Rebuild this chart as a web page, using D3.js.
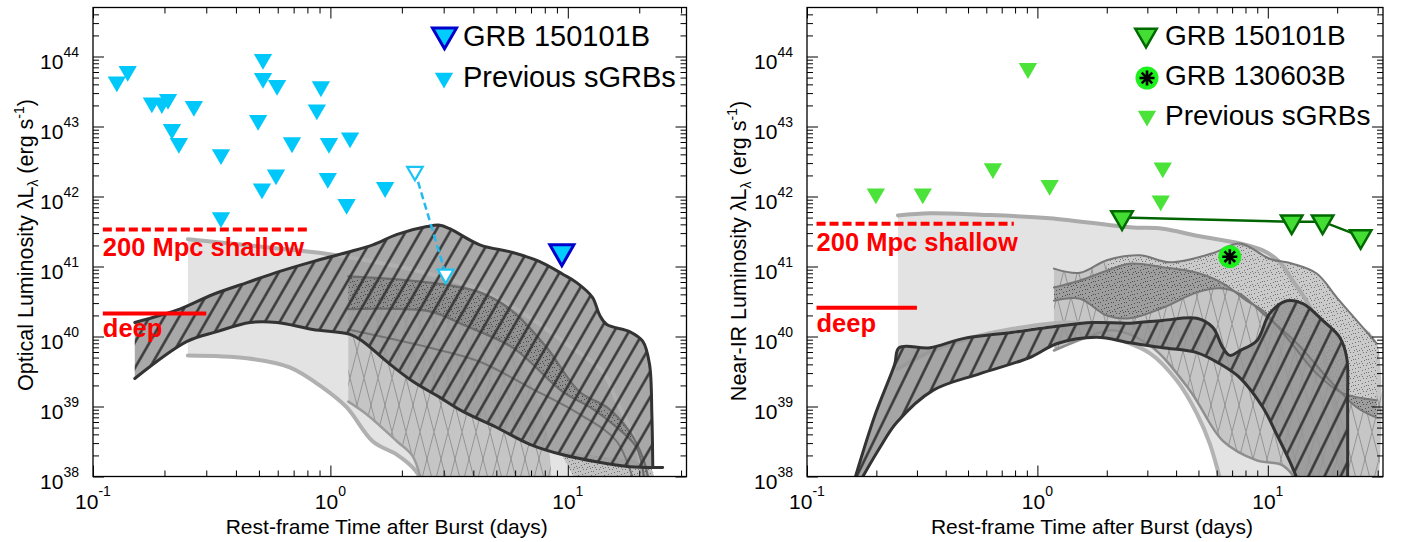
<!DOCTYPE html>
<html>
<head>
<meta charset="utf-8">
<script src="https://cdn.jsdelivr.net/npm/d3@7"></script>
<style>
  html,body{margin:0;padding:0;background:#fff;}
  svg{display:block;font-family:"Liberation Sans",Arial,Helvetica,sans-serif;}
</style>
</head>
<body>
<svg id="chart" width="1401" height="542"></svg>
<script>
// ================= DATA  (t in days, luminosity as log10 L [erg/s]) =================
const xTickExps = [-1, 0, 1];
const yTickExps = [38, 39, 40, 41, 42, 43, 44];

// ---- Optical panel ----
const optPrevSGRB = [[0.126,43.64],[0.140,43.79],[0.177,43.34],[0.195,43.33],[0.207,43.39],[0.266,43.29],
  [0.215,42.96],[0.230,42.76],[0.346,42.60],[0.346,41.70],[0.520,43.96],[0.520,43.69],[0.596,43.59],
  [0.496,43.09],[0.689,42.77],[0.590,42.31],[0.515,42.11],[0.912,43.57],[0.877,43.24],[0.986,42.76],
  [0.975,42.26],[1.21,42.84],[1.17,41.89],[1.70,42.13]];
const optOpenPair = [[2.27,42.36],[3.06,40.89]];
const opt150101B = [[9.44,41.21]];
const optShallow = [[0.11,41.53],[0.80,41.53]];
const optDeep = [[0.11,40.33],[0.30,40.33]];

// model envelopes (upper / lower edges)
const optLightUp = [[0.251,41.39],[0.458,41.30],[0.929,41.19],[1.21,41.13],[2.38,40.93],[4.26,40.67],[6.92,40.27],
  [9.53,39.93],[14.0,39.50],[16.1,39.07],[19.1,38.53],[21.1,37.89]];
const optLightLo = [[0.251,39.73],[0.445,39.69],[0.674,39.56],[0.929,39.27],[1.17,38.99],[1.51,38.50],[1.91,38.31],
  [2.22,38.13],[2.50,37.89]];
const optCrossUp = [[1.19,40.87],[2.62,40.67],[4.26,40.31],[6.28,39.67],[7.62,38.96],[8.24,38.53],[8.57,37.89]];
const optCrossLo = [[1.19,39.07],[1.42,38.89],[1.91,38.50],[2.22,38.29],[2.43,37.89]];
const optStipUp = [[1.19,40.86],[2.62,40.77],[4.26,40.63],[5.86,40.36],[8.16,39.84],[11.2,39.21],[14.6,38.99],
  [18.2,38.64],[20.7,38.27],[22.1,37.89]];
const optStipLo = [[1.19,40.39],[2.62,40.36],[3.61,40.17],[5.86,39.84],[9.53,39.21],[12.4,38.99],[16.1,38.70],
  [19.5,38.41],[21.1,37.89]];
const optInner = [[1.19,40.10],[2.62,39.84],[4.26,39.64],[6.92,39.27],[11.2,38.89],[16.1,38.50],[19.1,37.89]];
const optTailUp = [[9.25,38.36],[13.6,38.29],[20.1,38.21],[22.6,38.10],[23.2,37.89]];
const optTailLo = [[9.25,38.36],[11.0,37.89]];
const optHatchUp = [[0.150,40.20],[0.191,40.30],[0.232,40.39],[0.320,40.60],[0.445,40.77],[0.612,40.93],[0.843,41.07],
  [1.17,41.20],[1.51,41.31],[1.91,41.46],[2.55,41.57],[2.89,41.59],[3.18,41.54],[4.26,41.31],[5.86,41.20],
  [7.62,41.07],[9.53,40.89],[10.9,40.77],[12.7,40.56],[13.6,40.31],[14.6,40.17],[18.2,40.07],[20.7,39.93],
  [22.1,39.60],[22.6,38.89],[22.8,38.13]];
const optHatchLo = [[0.150,39.40],[0.249,39.93],[0.333,40.07],[0.458,40.20],[0.596,40.20],[0.843,40.10],[1.21,40.03],
  [1.37,39.93],[1.73,39.64],[2.22,39.36],[2.89,39.13],[3.61,38.93],[5.02,38.70],[6.92,38.46],[9.53,38.31],
  [13.2,38.21],[18.2,38.14],[25.1,38.13]];

// ---- Near-IR panel ----
const nirPrevSGRB = [[0.199,42.04],[0.318,42.04],[0.641,42.40],[0.91,43.83],[1.13,42.16],[3.50,42.41],[3.43,41.94]];
const nir150101B = [[2.33,41.70],[12.7,41.64],[17.3,41.64],[25.3,41.43]];
const nir130603B = [[6.84,41.14]];
const nirShallow = [[0.11,41.61],[0.79,41.61]];
const nirDeep = [[0.11,40.41],[0.30,40.41]];

const nirLightUp = [[0.248,41.73],[0.342,41.76],[0.564,41.74],[1.13,41.69],[2.52,41.56],[3.50,41.54],[4.92,41.44],
  [7.57,41.33],[9.51,41.23],[11.3,41.06],[12.8,40.80],[14.2,40.59],[15.5,40.37],[17.1,39.87],[19.0,39.23],
  [20.5,38.51],[21.6,37.87]];
const nirLightLo = [[0.248,39.54],[0.378,39.84],[0.783,40.11],[1.53,40.19],[1.87,40.06],[3.08,39.76],[4.03,39.37],
  [4.92,38.90],[5.60,38.47],[6.31,37.87]];
const nirTopLine = [[1.18,40.97],[1.53,40.91],[2.00,41.09],[2.79,41.16],[3.76,41.06],[5.77,41.19],[7.57,41.33],
  [10.2,41.11],[12.8,41.04],[16.3,40.90],[19.9,40.56],[24.3,40.23],[29.7,39.90]];
const nirCrossLo = [[1.18,39.80],[1.64,39.99],[2.13,40.09],[3.08,39.87],[4.59,39.23],[6.38,38.51],[8.96,38.23],
  [11.6,38.16],[13.8,37.87]];
const nirDarkUp = [[1.18,40.70],[1.53,40.80],[2.00,40.94],[2.52,41.04],[3.50,40.99],[4.92,40.91],[6.38,40.76],
  [8.11,40.51],[9.51,40.37],[12.4,39.94],[16.3,39.47],[21.1,39.19],[29.7,39.09]];
const nirDarkLo = [[1.18,40.51],[1.53,40.54],[2.00,40.30],[2.52,40.26],[3.50,40.41],[4.92,40.63],[6.19,40.69],
  [7.57,40.61],[9.51,40.33],[13.4,39.90],[18.6,39.37],[24.3,38.99],[29.7,38.84]];
const nirHatchUp = [[0.158,37.87],[0.197,38.87],[0.240,39.60],[0.251,39.84],[0.342,39.84],[0.475,39.97],[0.783,40.06],
  [1.17,40.14],[1.74,40.20],[2.52,40.19],[3.50,40.23],[4.92,40.26],[5.77,40.13],[6.38,39.84],[6.84,39.73],
  [7.57,39.80],[8.96,39.94],[10.2,40.33],[12.1,40.51],[14.2,40.47],[17.3,40.23],[20.5,39.99],[22.0,39.70],
  [22.2,39.09],[22.2,37.87]];
const nirHatchLo = [[0.166,37.87],[0.207,38.41],[0.245,38.77],[0.352,39.23],[0.564,39.47],[0.927,39.70],[1.22,39.90],
  [1.81,39.99],[2.52,39.91],[3.50,39.84],[4.92,39.77],[6.19,39.61],[7.57,39.41],[9.51,38.99],[10.9,38.61],
  [12.4,38.23],[13.8,37.87]];

// ================= DRAWING =================
const svg = d3.select("#chart");
const defs = svg.append("defs");

function addHatch(id, gap, angle, color, w) {
  const p = defs.append("pattern").attr("id", id).attr("patternUnits", "userSpaceOnUse")
    .attr("width", gap).attr("height", gap).attr("patternTransform", `rotate(${angle})`);
  p.append("rect").attr("x", gap / 2 - w / 2).attr("y", 0).attr("width", w).attr("height", gap).attr("fill", color);
}
addHatch("hatchOpt", 12.8, 30, "#333", 2.4);
addHatch("hatchNir", 14.5, 26, "#333", 2.4);

const xp = defs.append("pattern").attr("id", "xhatch").attr("patternUnits", "userSpaceOnUse")
  .attr("width", 14).attr("height", 54);
xp.append("path").attr("d", "M0,0L14,54M14,0L0,54").attr("stroke", "#878787")
  .attr("stroke-width", 0.8).attr("fill", "none");

const dotPos = [[1,1],[5,0],[8,3],[3,4],[10,6],[6,7],[1,8],[9,10],[4,11],[11,1],[7,12],[0,5],[12,9],[2,12],[6,3],[10,12],[3,8]];
function addStipple(id, color) {
  const p = defs.append("pattern").attr("id", id).attr("patternUnits", "userSpaceOnUse")
    .attr("width", 13).attr("height", 13);
  dotPos.forEach(([a, b]) => p.append("rect").attr("x", a).attr("y", b)
    .attr("width", 0.9).attr("height", 0.9).attr("fill", color));
}
addStipple("stipDark", "#3a3a3a");
addStipple("stipLight", "#606060");

function makePanel(cfg) {
  const x = d3.scaleLog().domain([0.1, Math.pow(10, 1.5)]).range([cfg.left, cfg.right]);
  const y = d3.scaleLog().domain([1e38, Math.pow(10, 44.7)]).range([cfg.bottom, cfg.top]);
  const line = d3.line().x(d => x(d[0])).y(d => y(Math.pow(10, d[1]))).curve(d3.curveCatmullRom.alpha(0.5));
  const area = (up, lo) => line(up) + line(lo.slice().reverse()).replace(/^M/, "L") + "Z";
  defs.append("clipPath").attr("id", "clip-" + cfg.id).append("rect")
    .attr("x", cfg.left).attr("y", cfg.top).attr("width", cfg.right - cfg.left).attr("height", cfg.bottom - cfg.top);
  const root = svg.append("g");
  const plot = root.append("g").attr("clip-path", `url(#clip-${cfg.id})`);
  return { cfg, x, y, line, area, root, plot, px: d => x(d[0]), py: d => y(Math.pow(10, d[1])) };
}
function fillBand(P, up, lo, fill, op) {
  return P.plot.append("path").attr("d", P.area(up, lo)).attr("fill", fill).attr("fill-opacity", op == null ? 1 : op);
}
function strokeCurve(P, pts, color, w) {
  return P.plot.append("path").attr("d", P.line(pts)).attr("fill", "none").attr("stroke", color)
    .attr("stroke-width", w).attr("stroke-linejoin", "round").attr("stroke-linecap", "round");
}
function triangle(size) { return d3.symbol().type(d3.symbolTriangle).size(size)(); }

function drawAxes(P, titleParts, titleX, titleY) {
  const { x, y, cfg, root } = P;
  const majX = xTickExps.map(e => Math.pow(10, e));
  const minX = [];
  xTickExps.forEach(e => { for (let k = 2; k <= 9; k++) { const v = k * Math.pow(10, e); if (Math.log10(v) < 1.495) minX.push(v); } });
  const majY = yTickExps.map(e => Math.pow(10, e));
  const minY = [];
  yTickExps.forEach(e => { for (let k = 2; k <= 9; k++) { const v = k * Math.pow(10, e); if (Math.log10(v) < 44.68) minY.push(v); } });
  const ax = root.append("g");
  const mk = (axisFn, pos, vals, size) => {
    const g = ax.append("g").attr("transform", pos).call(axisFn.tickValues(vals).tickSize(-size).tickFormat(""));
    g.select(".domain").remove();
    g.selectAll(".tick text").remove();
    g.selectAll(".tick line").attr("stroke", "#000").attr("stroke-width", 1);
  };
  mk(d3.axisBottom(x), `translate(0,${cfg.bottom})`, majX, 11);
  mk(d3.axisBottom(x), `translate(0,${cfg.bottom})`, minX, 6);
  mk(d3.axisTop(x), `translate(0,${cfg.top})`, majX, 11);
  mk(d3.axisTop(x), `translate(0,${cfg.top})`, minX, 6);
  mk(d3.axisLeft(y), `translate(${cfg.left},0)`, majY, 11);
  mk(d3.axisLeft(y), `translate(${cfg.left},0)`, minY, 6);
  mk(d3.axisRight(y), `translate(${cfg.right},0)`, majY, 11);
  mk(d3.axisRight(y), `translate(${cfg.right},0)`, minY, 6);
  root.append("rect").attr("x", cfg.left).attr("y", cfg.top).attr("width", cfg.right - cfg.left)
    .attr("height", cfg.bottom - cfg.top).attr("fill", "none").attr("stroke", "#000").attr("stroke-width", 1.3);

  xTickExps.forEach(e => {
    const t = root.append("text").attr("x", x(Math.pow(10, e))).attr("y", cfg.bottom + 32)
      .attr("text-anchor", "middle").style("font-size", "21px").attr("fill", "#000");
    t.append("tspan").text("10");
    t.append("tspan").attr("dy", -13).style("font-size", "14px").text(String(e));
  });
  yTickExps.forEach(e => {
    const t = root.append("text").attr("x", cfg.left - 14).attr("y", y(Math.pow(10, e)) + 12.5)
      .attr("text-anchor", "end").style("font-size", "21px").attr("fill", "#000");
    t.append("tspan").text("10");
    t.append("tspan").attr("dy", -12.5).style("font-size", "14px").text(String(e));
  });
  root.append("text").attr("x", (cfg.left + cfg.right) / 2 - 3).attr("y", 533.5)
    .attr("text-anchor", "middle").style("font-size", "21px").text("Rest-frame Time after Burst (days)");
  const yt = root.append("text").attr("transform", `translate(${titleX},${titleY}) rotate(-90)`)
    .attr("text-anchor", "middle").style("font-size", "21.5px");
  yt.append("tspan").text(titleParts[0] + " λL");
  yt.append("tspan").attr("dy", 5).style("font-size", "14px").text("λ");
  yt.append("tspan").attr("dy", -5).text(" (erg s");
  yt.append("tspan").attr("dy", -9).style("font-size", "14px").text("-1");
  yt.append("tspan").attr("dy", 9).text(")");
}

function drawLimits(P, shallow, deep) {
  const g = P.root;
  g.append("path").attr("d", d3.line().x(P.px).y(P.py)(shallow)).attr("stroke", "#ff0000")
    .attr("stroke-width", 4).attr("stroke-dasharray", "9,4").attr("fill", "none");
  g.append("path").attr("d", d3.line().x(P.px).y(P.py)(deep)).attr("stroke", "#ff0000")
    .attr("stroke-width", 4).attr("fill", "none");
  g.append("text").attr("x", P.px(shallow[0])).attr("y", P.py(shallow[0]) + 27)
    .style("font-size", "25.5px").style("font-weight", "bold").attr("fill", "#ff0000").text("200 Mpc shallow");
  g.append("text").attr("x", P.px(deep[0])).attr("y", P.py(deep[0]) + 24)
    .style("font-size", "25.5px").style("font-weight", "bold").attr("fill", "#ff0000").text("deep");
}

// ----------------- OPTICAL PANEL -----------------
const L = makePanel({ id: "opt", left: 93, right: 686.5, top: 7.5, bottom: 476.5 });
fillBand(L, optLightUp, optLightLo, "#e3e3e3");
fillBand(L, optCrossUp, optCrossLo, "#c5c5c5");
fillBand(L, optCrossUp, optCrossLo, "url(#xhatch)");
fillBand(L, optTailUp, optTailLo, "#c3c3c3");
fillBand(L, optTailUp, optTailLo, "url(#stipLight)");
fillBand(L, optHatchUp, optHatchLo, "#999999", 0.85);
fillBand(L, optStipUp, optStipLo, "#333", 0.16);
fillBand(L, optStipUp, optStipLo, "url(#stipDark)");
strokeCurve(L, optLightUp, "#b0b0b0", 4);
strokeCurve(L, optLightLo, "#b0b0b0", 4);
strokeCurve(L, optCrossLo, "#9c9c9c", 2.5);
strokeCurve(L, optStipUp, "#6c6c6c", 2.2);
strokeCurve(L, optStipLo, "#6c6c6c", 2.2);
strokeCurve(L, optInner, "#747474", 2);
fillBand(L, optHatchUp, optHatchLo, "url(#hatchOpt)");
strokeCurve(L, optHatchUp, "#333", 3);
strokeCurve(L, optHatchLo, "#333", 3);
drawAxes(L, ["Optical Luminosity"], 33, 245);
drawLimits(L, optShallow, optDeep);

// markers
L.root.append("path").attr("d", d3.line().x(L.px).y(L.py)(optOpenPair)).attr("fill", "none")
  .attr("stroke", "#22bbee").attr("stroke-width", 2.5).attr("stroke-dasharray", "7,4");
L.root.selectAll(".prevOpt").data(optPrevSGRB).enter().append("path")
  .attr("d", triangle(145)).attr("transform", d => `translate(${L.px(d)},${L.py(d)}) rotate(180)`)
  .attr("fill", "#00c8fa");
L.root.selectAll(".openOpt").data(optOpenPair).enter().append("path")
  .attr("d", triangle(105)).attr("transform", d => `translate(${L.px(d)},${L.py(d)}) rotate(180)`)
  .attr("fill", "#fff").attr("stroke", "#1cc4f4").attr("stroke-width", 2.2);
L.root.selectAll(".grbOpt").data(opt150101B).enter().append("path")
  .attr("d", triangle(250)).attr("transform", d => `translate(${L.px(d)},${L.py(d)}) rotate(180)`)
  .attr("fill", "#00ccff").attr("stroke", "#0000cc").attr("stroke-width", 3);
// legend
L.root.append("path").attr("d", triangle(250)).attr("transform", "translate(444.5,35) rotate(180)")
  .attr("fill", "#00ccff").attr("stroke", "#0000cc").attr("stroke-width", 3);
L.root.append("text").attr("x", 463).attr("y", 46).style("font-size", "29px").text("GRB 150101B");
L.root.append("path").attr("d", triangle(145)).attr("transform", "translate(444,78) rotate(180)")
  .attr("fill", "#00c8fa");
L.root.append("text").attr("x", 463).attr("y", 87).style("font-size", "29px").text("Previous sGRBs");

// ----------------- NEAR-IR PANEL -----------------
const R = makePanel({ id: "nir", left: 807, right: 1383, top: 7.5, bottom: 476.5 });
fillBand(R, nirLightUp, nirLightLo, "#e3e3e3");
const nirCrossUp = nirTopLine.concat([[29.7, 37.5]]);
fillBand(R, nirCrossUp, nirCrossLo, "#c6c6c6");
fillBand(R, nirCrossUp, nirCrossLo, "url(#xhatch)");
const nirLightStipUp = nirTopLine.filter(d => d[0] >= 2.0);
const nirLightStipLo = nirDarkUp.filter(d => d[0] >= 2.0);
fillBand(R, nirLightStipUp, nirLightStipLo, "#cacaca");
fillBand(R, nirLightStipUp, nirLightStipLo, "url(#stipLight)");
fillBand(R, nirDarkUp, nirDarkLo, "#9e9e9e");
fillBand(R, nirDarkUp, nirDarkLo, "url(#stipDark)");
strokeCurve(R, nirLightUp, "#ababab", 4);
strokeCurve(R, nirLightLo, "#b3b3b3", 4);
fillBand(R, nirHatchUp, nirHatchLo, "#959595", 0.85);
strokeCurve(R, nirTopLine, "#777", 2);
strokeCurve(R, nirCrossLo, "#8e8e8e", 2.5);
strokeCurve(R, nirDarkUp, "#777", 2);
strokeCurve(R, nirDarkLo, "#777", 2);
fillBand(R, nirHatchUp, nirHatchLo, "url(#hatchNir)");
strokeCurve(R, nirHatchUp, "#333", 3);
strokeCurve(R, nirHatchLo, "#333", 3);
drawAxes(R, ["Near-IR Luminosity"], 746, 251);
drawLimits(R, nirShallow, nirDeep);

R.root.selectAll(".prevNir").data(nirPrevSGRB).enter().append("path")
  .attr("d", triangle(145)).attr("transform", d => `translate(${R.px(d)},${R.py(d)}) rotate(180)`)
  .attr("fill", "#4be33a");
R.root.append("path").attr("d", d3.line().x(R.px).y(R.py)(nir150101B)).attr("fill", "none")
  .attr("stroke", "#006400").attr("stroke-width", 2.5);
R.root.selectAll(".grbNir").data(nir150101B).enter().append("path")
  .attr("d", triangle(200)).attr("transform", d => `translate(${R.px(d)},${R.py(d)}) rotate(180)`)
  .attr("fill", "#44dd33").attr("stroke", "#006a00").attr("stroke-width", 2.5);
const asterisk = "M0,-7.5L0,7.5M-7.5,0L7.5,0M-5.3,-5.3L5.3,5.3M-5.3,5.3L5.3,-5.3";
function drawStar(g, cx, cy) {
  g.append("circle").attr("cx", cx).attr("cy", cy).attr("r", 11.5).attr("fill", "#1ef01e");
  g.append("path").attr("d", asterisk).attr("transform", `translate(${cx},${cy})`)
    .attr("stroke", "#000").attr("stroke-width", 2.6).attr("fill", "none");
}
nir130603B.forEach(d => drawStar(R.root, R.px(d), R.py(d)));
// legend
R.root.append("path").attr("d", triangle(200)).attr("transform", "translate(1146,35) rotate(180)")
  .attr("fill", "#44dd33").attr("stroke", "#006a00").attr("stroke-width", 2.5);
R.root.append("text").attr("x", 1165).attr("y", 45).style("font-size", "28px").text("GRB 150101B");
drawStar(R.root, 1147, 78);
R.root.append("text").attr("x", 1165).attr("y", 85).style("font-size", "28px").text("GRB 130603B");
R.root.append("path").attr("d", triangle(145)).attr("transform", "translate(1147,116) rotate(180)")
  .attr("fill", "#4be33a");
R.root.append("text").attr("x", 1165).attr("y", 125).style("font-size", "28px").text("Previous sGRBs");
</script>
</body>
</html>
